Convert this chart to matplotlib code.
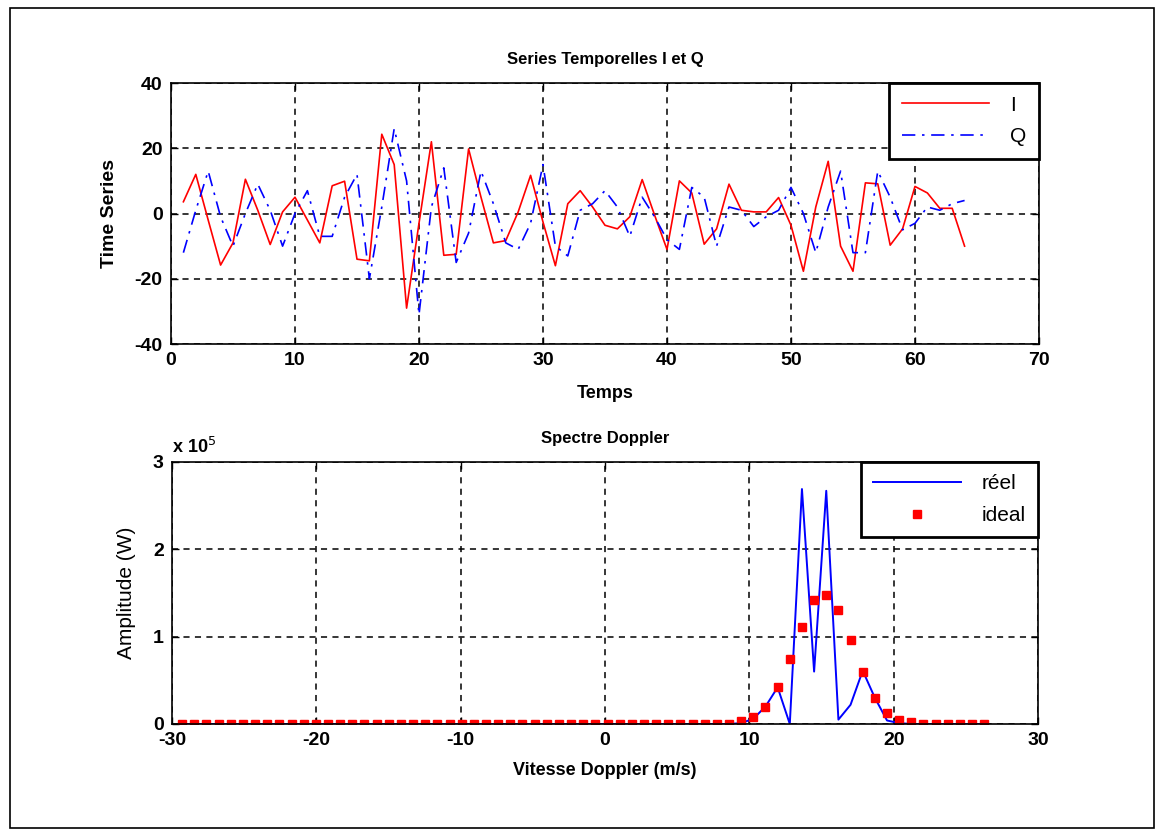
import numpy as np
import matplotlib
matplotlib.use("Agg")
import matplotlib.pyplot as plt
from matplotlib.patches import Rectangle

# time series I and Q (64 samples)
temps = np.arange(1, 65)
serie_i = [3.6, 12, -2, -15.8, -9, 10.5, 1, -9.5, 0.5, 5,
           -2, -9, 8.5, 9.9, -14, -14.5, 24.3, 15, -29, -3,
           22, -12.8, -12.5, 19.8, 5, -9, -8.3, 0.5, 11.7, -2.6,
           -16, 3, 7, 2, -3.6, -4.7, -1, 10.4, -0.5, -11,
           10, 6.3, -9.4, -4.7, 9, 1, 0.5, 0.5, 4.9, -3.6,
           -17.7, 2, 16, -10, -17.7, 9.4, 9.1, -9.7, -4.7, 8.3,
           6.3, 1.6, 1.6, -10]
serie_q = [-12, 1, 13, -1, -10, 0, 9, 1, -10, 0,
           7, -7, -7, 5, 12, -20, 2, 26, 10, -31,
           2, 14, -15, -6, 13, 3, -9, -11, -3, 15,
           -10, -13, 1, 3, 7, 2, -7, 5, -1, -8,
           -11, 8, 5, -10, 2, 1, -4, -1, 1, 8,
           0, -12, 2, 13, -12, -12, 13, 5, -5, -3,
           2, 1, 3, 4]

# Doppler spectrum (x 1e5 W)
vitesse = -29.3 + 0.842 * np.arange(67)
reel = [0] * 46 + [0.01, 0.06, 0.2, 0.42, 0.0, 2.69, 0.6, 2.67, 0.05, 0.22,
                   0.61, 0.3, 0.04, 0.01] + [0] * 7
ideal = [0] * 45 + [0.005, 0.03, 0.08, 0.19, 0.42, 0.74, 1.11, 1.42, 1.48, 1.31,
                    0.96, 0.59, 0.30, 0.12, 0.05, 0.02] + [0] * 6

plt.rcParams["font.family"] = ["Liberation Sans", "DejaVu Sans"]
plt.rcParams["axes.unicode_minus"] = False

fig = plt.figure(figsize=(11.64, 8.36), dpi=100)
fig.patches.append(Rectangle((0.009, 0.009), 0.982, 0.982, transform=fig.transFigure,
                             fill=False, edgecolor="black", linewidth=1.2))

grid_kw = dict(color="black", linestyle=(0, (4, 3.5)), linewidth=1.1)
leg_kw = dict(loc="upper right", fontsize=15, fancybox=False, framealpha=1,
              edgecolor="black", borderaxespad=0, handlelength=4.2,
              labelspacing=0.6, borderpad=0.6, handletextpad=1.0)

# top: time series
ax1 = fig.add_axes([0.1469, 0.5885, 0.7457, 0.3122])
ax1.plot(temps, serie_i, color="red", linewidth=1.2, label="I")
ax1.plot(temps, serie_q, color="blue", linewidth=1.2, linestyle=(0, (8, 4, 1.5, 4)), label="Q")
ax1.set_xlim(0, 70)
ax1.set_ylim(-40, 40)
ax1.set_xticks(range(0, 71, 10))
ax1.set_yticks(range(-40, 41, 20))
ax1.grid(True, **grid_kw)
ax1.set_title("Series Temporelles I et Q", fontsize=12, fontweight="bold", pad=14)
ax1.set_xlabel("Temps", fontsize=13, fontweight="bold", labelpad=11)
ax1.set_ylabel("Time Series", fontsize=14, fontweight="bold", labelpad=12)
leg1 = ax1.legend(**leg_kw)
leg1.get_frame().set_linewidth(2)

# bottom: Doppler spectrum
ax2 = fig.add_axes([0.1478, 0.1340, 0.7440, 0.3134])
ax2.plot(vitesse, np.array(reel) * 1e5, color="blue", linewidth=1.4, label="réel")
ax2.plot(vitesse, np.array(ideal) * 1e5, "s", color="red", markersize=6, label="ideal")
ax2.set_xlim(-30, 30)
ax2.set_ylim(0, 3e5)
ax2.set_xticks(range(-30, 31, 10))
ax2.set_yticks([0, 1e5, 2e5, 3e5])
ax2.set_yticklabels(["0", "1", "2", "3"])
ax2.grid(True, **grid_kw)
ax2.set_title("Spectre Doppler", fontsize=12, fontweight="bold", pad=14)
ax2.set_xlabel("Vitesse Doppler (m/s)", fontsize=13, fontweight="bold", labelpad=9)
ax2.set_ylabel("Amplitude (W)", fontsize=15, labelpad=12)
ax2.text(0, 1.02, r"x 10$^{5}$", transform=ax2.transAxes, fontsize=13,
         fontweight="bold", va="bottom", ha="left")
leg2 = ax2.legend(**leg_kw)
leg2.get_frame().set_linewidth(2)

for ax in (ax1, ax2):
    ax.tick_params(direction="in", top=True, right=True, length=5, width=1,
                   labelsize=14, pad=6)
    for lab in ax.get_xticklabels() + ax.get_yticklabels():
        lab.set_fontweight("bold")
    for s in ax.spines.values():
        s.set_linewidth(1.2)

fig.savefig("out.png", dpi=100)
